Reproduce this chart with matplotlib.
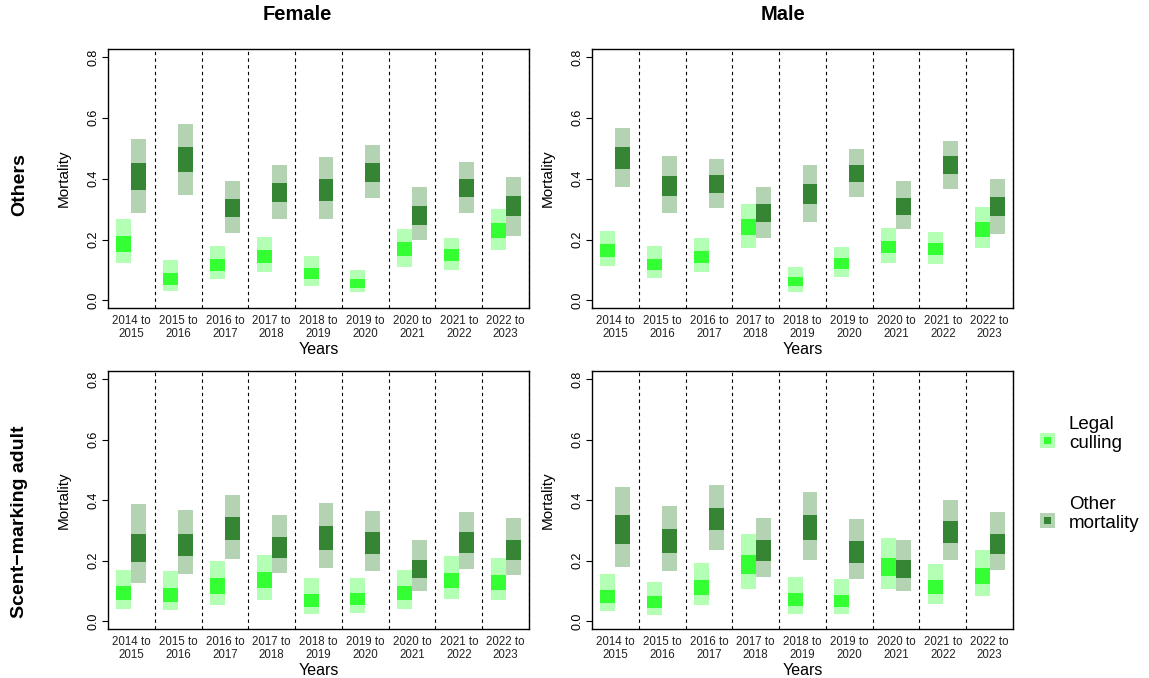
import matplotlib
matplotlib.use("Agg")
import matplotlib.pyplot as plt
from matplotlib.patches import Rectangle
import numpy as np

plt.rcParams['font.family'] = ['Liberation Sans', 'DejaVu Sans']

periods = ["2014 to\n2015", "2015 to\n2016", "2016 to\n2017", "2017 to\n2018",
           "2018 to\n2019", "2019 to\n2020", "2020 to\n2021", "2021 to\n2022",
           "2022 to\n2023"]

# each row: (lower 95%, lower 50%, upper 50%, upper 95%)
female_others_legal = [(0.124, 0.159, 0.213, 0.266), (0.030, 0.052, 0.089, 0.132),
                       (0.070, 0.096, 0.136, 0.179), (0.093, 0.122, 0.166, 0.209),
                       (0.046, 0.069, 0.106, 0.145), (0.026, 0.042, 0.069, 0.099),
                       (0.109, 0.145, 0.193, 0.236), (0.099, 0.129, 0.169, 0.206),
                       (0.166, 0.206, 0.253, 0.299)]
female_others_other = [(0.287, 0.363, 0.450, 0.530), (0.346, 0.421, 0.503, 0.580),
                       (0.223, 0.273, 0.333, 0.393), (0.266, 0.323, 0.386, 0.446),
                       (0.266, 0.326, 0.400, 0.470), (0.336, 0.390, 0.453, 0.510),
                       (0.199, 0.249, 0.309, 0.373), (0.286, 0.339, 0.400, 0.456),
                       (0.213, 0.276, 0.343, 0.406)]
male_others_legal = [(0.112, 0.142, 0.186, 0.229), (0.072, 0.099, 0.136, 0.179),
                     (0.092, 0.122, 0.162, 0.206), (0.173, 0.216, 0.266, 0.316),
                     (0.029, 0.046, 0.076, 0.109), (0.076, 0.102, 0.139, 0.176),
                     (0.122, 0.156, 0.196, 0.239), (0.119, 0.149, 0.189, 0.226),
                     (0.173, 0.209, 0.256, 0.306)]
male_others_other = [(0.371, 0.433, 0.503, 0.567), (0.286, 0.343, 0.410, 0.473),
                     (0.303, 0.353, 0.413, 0.466), (0.206, 0.256, 0.316, 0.373),
                     (0.259, 0.316, 0.383, 0.446), (0.339, 0.390, 0.446, 0.496),
                     (0.233, 0.279, 0.336, 0.393), (0.366, 0.416, 0.473, 0.523),
                     (0.219, 0.276, 0.339, 0.400)]
female_scent_legal = [(0.040, 0.070, 0.117, 0.170), (0.037, 0.063, 0.110, 0.167),
                      (0.053, 0.090, 0.144, 0.200), (0.070, 0.110, 0.164, 0.220),
                      (0.023, 0.047, 0.090, 0.144), (0.027, 0.053, 0.093, 0.144),
                      (0.040, 0.070, 0.117, 0.170), (0.073, 0.110, 0.160, 0.217),
                      (0.070, 0.104, 0.154, 0.210)]
female_scent_other = [(0.127, 0.197, 0.287, 0.387), (0.157, 0.217, 0.290, 0.367),
                      (0.207, 0.267, 0.344, 0.417), (0.160, 0.210, 0.280, 0.351),
                      (0.177, 0.237, 0.314, 0.391), (0.167, 0.224, 0.294, 0.364),
                      (0.100, 0.144, 0.204, 0.270), (0.174, 0.227, 0.294, 0.361),
                      (0.154, 0.204, 0.270, 0.341)]
male_scent_legal = [(0.033, 0.060, 0.104, 0.157), (0.020, 0.043, 0.083, 0.130),
                    (0.053, 0.087, 0.137, 0.194), (0.107, 0.157, 0.220, 0.287),
                    (0.023, 0.050, 0.093, 0.147), (0.023, 0.047, 0.087, 0.140),
                    (0.107, 0.150, 0.210, 0.274), (0.057, 0.090, 0.137, 0.190),
                    (0.083, 0.124, 0.177, 0.234)]
male_scent_other = [(0.180, 0.257, 0.351, 0.444), (0.167, 0.227, 0.304, 0.381),
                    (0.237, 0.301, 0.374, 0.451), (0.147, 0.200, 0.270, 0.341),
                    (0.204, 0.270, 0.351, 0.427), (0.140, 0.194, 0.264, 0.337),
                    (0.100, 0.144, 0.204, 0.267), (0.204, 0.260, 0.331, 0.401),
                    (0.170, 0.224, 0.290, 0.361)]

legal_outer, legal_inner = "#b3ffb3", "#33ff33"
other_outer, other_inner = "#b3d3b3", "#358535"

W, H = 1149, 678
fig = plt.figure(figsize=(W / 100, H / 100), dpi=100)

def ax_at(x0, y0, x1, y1):
    return fig.add_axes([x0 / W, 1 - y1 / H, (x1 - x0) / W, (y1 - y0) / H])

panels = [
    (ax_at(108, 49, 529, 308), female_others_legal, female_others_other),
    (ax_at(592, 49, 1013, 308), male_others_legal, male_others_other),
    (ax_at(108, 371, 529, 629), female_scent_legal, female_scent_other),
    (ax_at(592, 371, 1013, 629), male_scent_legal, male_scent_other),
]

bw = 0.32
n = len(periods)
centers = np.arange(n) + 0.5

for ax, legal, other in panels:
    legal = np.array(legal)
    other = np.array(other)
    ax.bar(centers - bw, legal[:, 3] - legal[:, 0], bottom=legal[:, 0], width=bw,
           align='edge', color=legal_outer, linewidth=0)
    ax.bar(centers - bw, legal[:, 2] - legal[:, 1], bottom=legal[:, 1], width=bw,
           align='edge', color=legal_inner, linewidth=0)
    ax.bar(centers, other[:, 3] - other[:, 0], bottom=other[:, 0], width=bw,
           align='edge', color=other_outer, linewidth=0)
    ax.bar(centers, other[:, 2] - other[:, 1], bottom=other[:, 1], width=bw,
           align='edge', color=other_inner, linewidth=0)
    for b in range(1, n + 1):
        ax.axvline(b, color='black', linestyle=(0, (3, 3)), linewidth=0.8)
    ax.set_xlim(0, n)
    ax.set_ylim(-0.025, 0.826)
    ax.set_yticks([0.0, 0.2, 0.4, 0.6, 0.8])
    ax.set_yticklabels(["0.0", "0.2", "0.4", "0.6", "0.8"], rotation=90, va='center')
    ax.tick_params(axis='y', length=4, width=0.8, labelsize=9, pad=2)
    ax.set_xticks(centers)
    ax.set_xticklabels(periods, fontsize=8.3, linespacing=1.15, color='#222222')
    ax.tick_params(axis='x', length=0, pad=5)
    ax.set_xlabel("Years", fontsize=11.5, labelpad=1)
    ax.set_ylabel("Mortality", fontsize=11, labelpad=12)
    for s in ax.spines.values():
        s.set_linewidth(1.0)

fig.text(297 / W, 1 - 15 / H, "Female", fontsize=14.5, fontweight='bold', ha='center', va='center')
fig.text(783 / W, 1 - 15 / H, "Male", fontsize=14.5, fontweight='bold', ha='center', va='center')
fig.text(20 / W, 1 - 185 / H, "Others", fontsize=14, fontweight='bold', ha='center', va='center', rotation=90)
fig.text(20 / W, 1 - 522 / H, "Scent\u2212marking adult", fontsize=14, fontweight='bold', ha='center', va='center', rotation=90)

# legend
leg = fig.add_axes([0, 0, 1, 1], facecolor='none')
leg.set_xlim(0, W)
leg.set_ylim(H, 0)
leg.axis('off')
for (cy, oc, ic, txt) in [(440, legal_outer, legal_inner, "Legal\nculling"),
                          (520, other_outer, other_inner, "Other\nmortality")]:
    leg.add_patch(Rectangle((1039.5, cy - 7.5), 15, 15, color=oc, linewidth=0))
    leg.add_patch(Rectangle((1043.5, cy - 3.5), 7, 7, color=ic, linewidth=0))
    leg.text(1069, cy - 6, txt, fontsize=13.5, ha='left', va='center', linespacing=1.15)

fig.savefig("out.png", dpi=100)
